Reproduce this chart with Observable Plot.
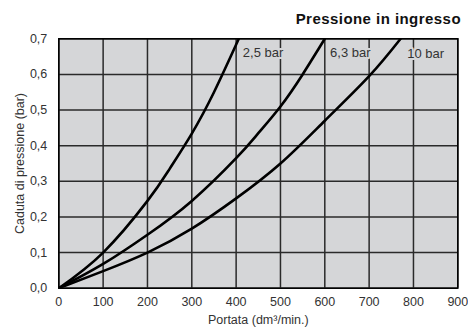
<!DOCTYPE html>
<html>
<head>
<meta charset="utf-8">
<script src="https://cdn.jsdelivr.net/npm/d3@7"></script>
<script src="https://cdn.jsdelivr.net/npm/@observablehq/plot@0.6"></script>
<style>
  html, body { margin: 0; padding: 0; background: #ffffff; }
  body { width: 468px; height: 327px; overflow: hidden; font-family: "Liberation Sans", Arial, sans-serif; }
  #title { height: 28px; box-sizing: border-box; padding-top: 11px; padding-right: 7px; line-height: 15px;
           font-size: 15px; font-weight: bold; text-align: right; color: #111; letter-spacing: 0.45px; }
  #chart svg { display: block; }
</style>
</head>
<body>
<div id="title">Pressione in ingresso</div>
<div id="chart"></div>
<script>
// ---- data ----
const series = ["2,5 bar", "6,3 bar", "10 bar"];

const flow25 = [0, 100, 200, 250, 300, 350, 406];
const drop25 = [0, 0.1, 0.245, 0.335, 0.434, 0.55, 0.7];

const flow63 = [0, 100, 200, 300, 400, 450, 500, 550, 600];
const drop63 = [0, 0.068, 0.15, 0.245, 0.365, 0.435, 0.51, 0.6, 0.7];

const flow10 = [0, 100, 200, 300, 400, 500, 600, 700, 771];
const drop10 = [0, 0.048, 0.1, 0.167, 0.252, 0.35, 0.47, 0.595, 0.7];

const labelFlow = [415, 612, 786];
const labelDrop = [0.662, 0.662, 0.658];

const xTicks = [0, 100, 200, 300, 400, 500, 600, 700, 800, 900];
const yTicks = [0, 0.1, 0.2, 0.3, 0.4, 0.5, 0.6, 0.7];

const xLabel = "Portata (dm³/min.)";
const yLabel = "Caduta di pressione (bar)";

// ---- build tables ----
const flows = [flow25, flow63, flow10];
const drops = [drop25, drop63, drop10];
const rows = [];
series.forEach((s, i) => flows[i].forEach((q, j) => rows.push({series: s, q, dp: drops[i][j]})));
const labels = series.map((s, i) => ({series: s, q: labelFlow[i], dp: labelDrop[i]}));

const bg = "#d5d6d8";

const chart = Plot.plot({
  width: 468,
  height: 299,
  marginTop: 10.3,
  marginBottom: 39.3,
  marginLeft: 58.3,
  marginRight: 10.7,
  style: {fontFamily: "'Liberation Sans', Arial, sans-serif", fontSize: "12.5px", color: "#333", background: "transparent"},
  x: {domain: [0, 900], labelArrow: "none"},
  y: {domain: [0, 0.7], labelArrow: "none"},
  marks: [
    Plot.frame({fill: bg, stroke: null}),
    Plot.gridX(xTicks, {stroke: "#2a2a2a", strokeOpacity: 1, strokeWidth: 1.5}),
    Plot.gridY(yTicks, {stroke: "#2a2a2a", strokeOpacity: 1, strokeWidth: 1.5}),
    Plot.text(labels, {x: "q", y: "dp", text: "series", textAnchor: "start", fill: "#333",
                       stroke: bg, strokeWidth: 4, fontSize: 13}),
    Plot.line(rows, {x: "q", y: "dp", z: "series", stroke: "#000", strokeWidth: 2.6, curve: "natural", clip: true}),
    Plot.frame({stroke: "#000", strokeWidth: 1.5}),
    Plot.axisX(xTicks, {tickSize: 0, tickPadding: 9, label: xLabel, labelAnchor: "center", labelOffset: 36,
                        labelArrow: "none", fontSize: 12.5}),
    Plot.axisY(yTicks, {tickSize: 0, tickPadding: 11.5, tickFormat: d => d.toFixed(1).replace(".", ","),
                        label: yLabel, labelAnchor: "center", labelOffset: 44, labelArrow: "none", fontSize: 12.5})
  ]
});
document.getElementById("chart").appendChild(chart);
</script>
</body>
</html>
